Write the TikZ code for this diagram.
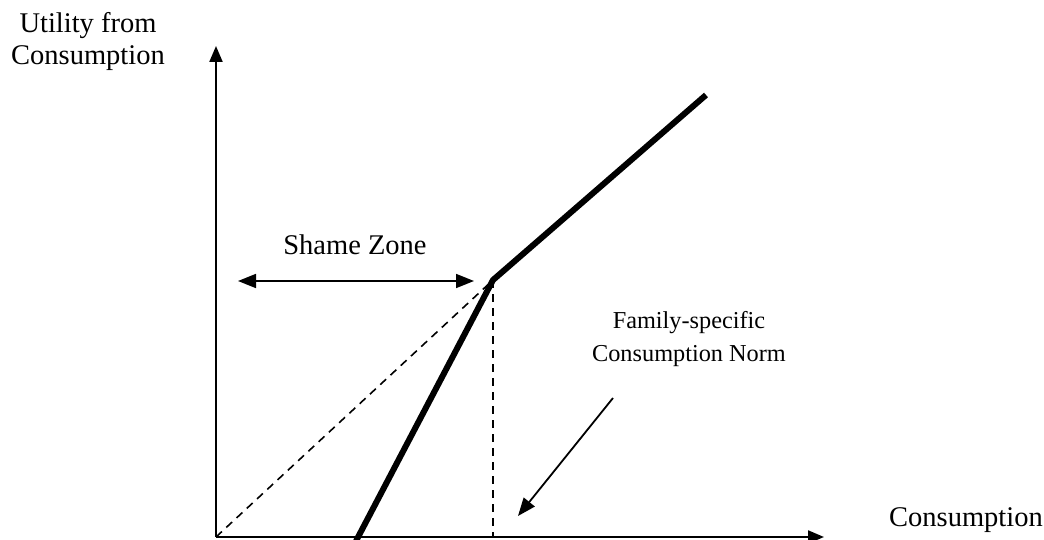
\documentclass[tikz,border=0pt]{standalone}
\usepackage{fontspec}
\setmainfont{Liberation Serif}
\usetikzlibrary{arrows.meta}
\begin{document}
\begin{tikzpicture}[x=1pt,y=-1pt,
  axis/.style={line width=2.2pt,-{Triangle[length=16pt,width=13pt]}},
  curve/.style={line width=6pt,line join=miter},
  guide/.style={line width=1.6pt,dash pattern=on 8pt off 6pt},
  pointer/.style={line width=1.8pt,-{Triangle[length=18pt,width=14pt]}},
  big/.style={font=\fontsize{28.5}{32}\selectfont,align=center,inner sep=0pt},
  small/.style={font=\fontsize{24.3}{33}\selectfont,align=center,inner sep=0pt}]
\useasboundingbox (0,0) rectangle (1044,540);
\coordinate (O) at (216,537);
\coordinate (ytop) at (216,46);
\coordinate (xend) at (824,537);
\coordinate (base) at (356,541);
\coordinate (K) at (493,280);
\coordinate (E) at (706,95);
\coordinate (Kb) at (493,537);
\coordinate (sl) at (238,281);
\coordinate (sr) at (474,281);
\coordinate (ps) at (613,398);
\coordinate (pe) at (518,516);
\draw[axis] (O) -- (ytop);
\draw[axis] (O) -- (xend);
\draw[guide] (O) -- (K);
\draw[guide] (K) -- (Kb);
\draw[curve] (base) -- (K) -- (E);
\draw[line width=1.8pt,{Triangle[length=18pt,width=14pt]}-{Triangle[length=18pt,width=14pt]}] (sl) -- (sr);
\draw[pointer] (ps) -- (pe);
\node[big] (ylab) at (88,42) {Utility from\\Consumption};
\node[big] (xlab) at (966,520) {Consumption};
\node[big] (shame) at (355,245) {Shame Zone};
\node[small] (norm) at (689,339) {Family-specific\\Consumption Norm};
\end{tikzpicture}
\end{document}
